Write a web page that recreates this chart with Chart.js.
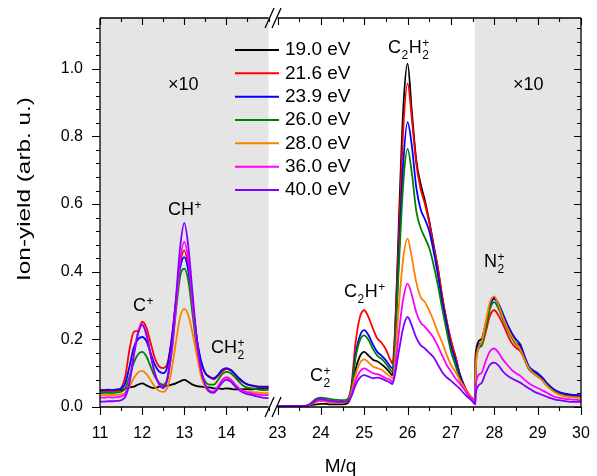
<!DOCTYPE html>
<html><head><meta charset="utf-8">
<script src="https://cdn.jsdelivr.net/npm/chart.js@4/dist/chart.umd.min.js"></script>
<style>html,body{margin:0;padding:0;background:#fff;}canvas{display:block;}</style>
</head><body>
<canvas id="c" width="597" height="476"></canvas>
<script>
// ---------------- DATA ----------------
const seriesLabels = ['19.0 eV','21.6 eV','23.9 eV','26.0 eV','28.0 eV','36.0 eV','40.0 eV'];
const seriesColors = ['#000000','#ff0000','#0000ff','#008000','#ff8000','#ff00ff','#8000ff'];

// left panel (x10), M/q 11 - 15
const massLeft = [11.0,11.1,11.2,11.3,11.4,11.5,11.6,11.7,11.8,11.9,12.0,12.1,12.2,12.3,12.4,12.5,12.6,12.7,12.8,12.9,13.0,13.1,13.2,13.3,13.4,13.5,13.6,13.7,13.8,13.9,14.0,14.1,14.2,14.3,14.4,14.5,14.6,14.7,14.8,14.9,15.0];
const yield19_0L = [0.050,0.049,0.050,0.048,0.050,0.049,0.055,0.058,0.060,0.066,0.070,0.064,0.058,0.056,0.060,0.062,0.063,0.066,0.070,0.076,0.080,0.074,0.066,0.062,0.060,0.058,0.058,0.055,0.055,0.053,0.055,0.054,0.052,0.053,0.052,0.053,0.052,0.054,0.055,0.055,0.055];
const yield21_6L = [0.046,0.047,0.046,0.048,0.047,0.055,0.090,0.170,0.222,0.225,0.252,0.235,0.190,0.145,0.120,0.115,0.130,0.200,0.310,0.420,0.463,0.410,0.300,0.200,0.130,0.100,0.090,0.082,0.092,0.105,0.112,0.108,0.095,0.082,0.073,0.066,0.063,0.060,0.058,0.058,0.058];
const yield23_9L = [0.050,0.050,0.051,0.050,0.052,0.055,0.070,0.120,0.175,0.200,0.207,0.195,0.160,0.125,0.105,0.100,0.120,0.200,0.310,0.410,0.443,0.400,0.300,0.200,0.135,0.100,0.088,0.085,0.095,0.110,0.115,0.110,0.098,0.085,0.074,0.067,0.064,0.062,0.060,0.060,0.060];
const yield26_0L = [0.041,0.042,0.042,0.041,0.043,0.045,0.055,0.090,0.130,0.155,0.163,0.150,0.120,0.090,0.072,0.066,0.085,0.160,0.280,0.385,0.409,0.370,0.270,0.170,0.105,0.075,0.066,0.066,0.080,0.097,0.104,0.100,0.088,0.074,0.063,0.057,0.055,0.053,0.051,0.050,0.050];
const yield28_0L = [0.035,0.035,0.036,0.035,0.036,0.037,0.042,0.060,0.085,0.102,0.107,0.098,0.080,0.060,0.048,0.045,0.058,0.110,0.190,0.265,0.290,0.270,0.215,0.150,0.090,0.058,0.045,0.045,0.062,0.079,0.085,0.080,0.066,0.053,0.047,0.045,0.044,0.043,0.042,0.041,0.041];
const yield36_0L = [0.028,0.028,0.029,0.028,0.029,0.031,0.040,0.080,0.155,0.220,0.245,0.215,0.155,0.100,0.070,0.058,0.082,0.165,0.290,0.430,0.488,0.430,0.300,0.185,0.105,0.065,0.048,0.046,0.060,0.080,0.088,0.082,0.068,0.055,0.047,0.043,0.040,0.038,0.036,0.035,0.035];
const yield40_0L = [0.016,0.016,0.017,0.017,0.018,0.020,0.030,0.070,0.150,0.215,0.242,0.215,0.155,0.100,0.068,0.056,0.085,0.180,0.320,0.470,0.544,0.470,0.330,0.200,0.110,0.065,0.045,0.042,0.055,0.072,0.080,0.075,0.062,0.050,0.042,0.038,0.036,0.032,0.029,0.027,0.026];

// right panel, M/q 23 - 30 (x10 above 27.55)
const massRight = [23.0,23.2,23.4,23.6,23.7,23.8,23.9,24.0,24.1,24.2,24.3,24.4,24.5,24.6,24.7,24.8,24.9,25.0,25.1,25.2,25.3,25.4,25.5,25.6,25.65,25.7,25.8,25.9,26.0,26.1,26.2,26.3,26.4,26.5,26.6,26.7,26.8,26.9,27.0,27.1,27.2,27.3,27.4,27.5,27.56,27.57,27.7,27.8,27.9,28.0,28.1,28.2,28.3,28.4,28.5,28.6,28.7,28.8,28.9,29.0,29.1,29.2,29.3,29.4,29.5,29.6,29.7,29.8,29.9,30.0];
const yield19_0R = [0.003,0.003,0.003,0.003,0.004,0.006,0.008,0.009,0.009,0.008,0.008,0.008,0.008,0.010,
  0.035,0.110,0.150,0.163,0.152,0.140,0.135,0.126,0.115,0.100,0.094,
  0.180,0.550,0.880,1.015,0.870,0.730,0.660,0.610,0.550,0.480,0.410,0.325,0.255,0.195,0.150,0.100,0.065,0.040,0.024,
  0.014,0.158,
  0.200,0.245,0.300,0.325,0.300,0.270,0.240,0.215,0.190,0.180,0.145,0.115,0.105,0.098,0.085,0.070,0.058,0.048,0.042,0.038,0.036,0.035,0.034,0.033];
const yield21_6R = [0.003,0.003,0.003,0.003,0.004,0.010,0.016,0.018,0.017,0.015,0.014,0.013,0.013,0.018,
  0.060,0.190,0.265,0.286,0.265,0.232,0.203,0.190,0.170,0.140,0.129,
  0.200,0.500,0.820,0.957,0.850,0.720,0.645,0.600,0.545,0.475,0.410,0.325,0.255,0.198,0.152,0.100,0.065,0.040,0.025,
  0.015,0.148,
  0.180,0.220,0.270,0.286,0.270,0.245,0.215,0.190,0.175,0.165,0.140,0.112,0.100,0.092,0.080,0.066,0.054,0.045,0.039,0.035,0.033,0.032,0.031,0.030];
const yield23_9R = [0.003,0.003,0.003,0.003,0.004,0.011,0.018,0.020,0.019,0.017,0.016,0.015,0.015,0.016,
  0.050,0.155,0.210,0.227,0.212,0.185,0.163,0.152,0.138,0.120,0.114,
  0.170,0.450,0.720,0.842,0.770,0.650,0.585,0.555,0.520,0.460,0.390,0.310,0.245,0.180,0.140,0.095,0.060,0.038,0.022,
  0.012,0.139,
  0.190,0.240,0.300,0.320,0.305,0.275,0.245,0.220,0.200,0.185,0.150,0.120,0.108,0.100,0.088,0.073,0.060,0.050,0.044,0.040,0.038,0.036,0.035,0.034];
const yield26_0R = [0.003,0.003,0.003,0.003,0.005,0.015,0.025,0.028,0.026,0.024,0.022,0.021,0.020,0.022,
  0.050,0.145,0.197,0.212,0.198,0.172,0.152,0.142,0.128,0.110,0.104,
  0.160,0.420,0.660,0.763,0.690,0.580,0.530,0.500,0.470,0.420,0.360,0.290,0.225,0.165,0.125,0.085,0.055,0.035,0.020,
  0.011,0.130,
  0.180,0.230,0.290,0.310,0.290,0.260,0.230,0.205,0.185,0.170,0.140,0.112,0.100,0.090,0.080,0.066,0.054,0.045,0.038,0.034,0.032,0.030,0.029,0.028];
const yield28_0R = [0.003,0.003,0.003,0.003,0.004,0.010,0.016,0.018,0.017,0.015,0.014,0.014,0.013,0.015,
  0.040,0.095,0.130,0.141,0.132,0.120,0.115,0.110,0.100,0.090,0.085,
  0.120,0.300,0.440,0.498,0.440,0.370,0.325,0.310,0.285,0.255,0.220,0.190,0.155,0.125,0.105,0.080,0.060,0.040,0.022,
  0.012,0.114,
  0.190,0.250,0.310,0.327,0.300,0.265,0.235,0.210,0.190,0.170,0.140,0.115,0.100,0.090,0.080,0.065,0.053,0.043,0.037,0.033,0.030,0.029,0.028,0.027];
const yield36_0R = [0.003,0.003,0.003,0.003,0.004,0.011,0.018,0.020,0.019,0.017,0.016,0.015,0.015,0.016,
  0.035,0.078,0.105,0.114,0.108,0.100,0.097,0.092,0.085,0.080,0.075,
  0.100,0.220,0.320,0.365,0.330,0.280,0.250,0.237,0.222,0.205,0.180,0.152,0.125,0.105,0.085,0.070,0.053,0.037,0.020,
  0.010,0.065,
  0.100,0.135,0.165,0.173,0.160,0.140,0.125,0.110,0.100,0.092,0.080,0.070,0.062,0.056,0.050,0.043,0.036,0.030,0.027,0.025,0.023,0.022,0.021,0.020];
const yield40_0R = [0.003,0.003,0.003,0.003,0.005,0.012,0.021,0.024,0.022,0.019,0.017,0.016,0.015,0.017,
  0.030,0.065,0.087,0.094,0.090,0.085,0.087,0.084,0.078,0.072,0.068,
  0.090,0.165,0.235,0.266,0.240,0.205,0.183,0.173,0.160,0.147,0.125,0.103,0.088,0.078,0.066,0.055,0.040,0.028,0.016,
  0.008,0.040,
  0.070,0.100,0.125,0.131,0.122,0.105,0.093,0.085,0.078,0.072,0.063,0.055,0.047,0.041,0.036,0.031,0.026,0.022,0.020,0.018,0.016,0.015,0.015,0.015];

const xTickMasses = [11,12,13,14,23,24,25,26,27,28,29,30];
const xTickLabels = ['11','12','13','14','23','24','25','26','27','28','29','30'];
const yTickValues = [0,0.2,0.4,0.6,0.8,1.0];

// ---------------- AXIS BREAK MAPPING ----------------
const LEFT_END = 15, RIGHT_START = 23, SHADE_START = 27.55;
const X_LEFT_SCALE = 0.972, X_GAP = 0.206;
function disp(m){
  return m <= LEFT_END ? 11 + (m-11)*X_LEFT_SCALE
                       : 11 + (LEFT_END-11)*X_LEFT_SCALE + X_GAP + (m-RIGHT_START);
}

const leftSeries = [yield19_0L,yield21_6L,yield23_9L,yield26_0L,yield28_0L,yield36_0L,yield40_0L];
const rightSeries = [yield19_0R,yield21_6R,yield23_9R,yield26_0R,yield28_0R,yield36_0R,yield40_0R];
const gapX = (disp(LEFT_END)+disp(RIGHT_START))/2;

const datasets = seriesLabels.map((lab,i)=>({
  label: lab,
  data: [
    ...massLeft.map((m,j)=>({x:disp(m), y:leftSeries[i][j]})),
    {x:gapX, y:null},
    ...massRight.map((m,j)=>({x:disp(m), y:rightSeries[i][j]}))
  ],
  borderColor: seriesColors[i],
  backgroundColor: seriesColors[i],
  borderWidth: 1.8,
  pointRadius: 0,
  fill: false,
  spanGaps: false,
  cubicInterpolationMode: 'monotone',
  order: seriesLabels.length - i
}));

const FONT = "'Liberation Sans', Arial, sans-serif";

function drawFormula(ctx, x, base, parts, size){
  const sm = Math.round(size*0.66);
  let cx = x;
  for (const p of parts){
    if (typeof p === 'string'){
      ctx.font = size+'px '+FONT;
      ctx.fillText(p, cx, base);
      cx += ctx.measureText(p).width;
    } else {
      ctx.font = sm+'px '+FONT;
      let w = 0;
      if (p.sub){ ctx.fillText(p.sub, cx+0.5, base+6); w = Math.max(w, ctx.measureText(p.sub).width); }
      if (p.sup){ ctx.fillText(p.sup, cx+0.5, base-6); w = Math.max(w, ctx.measureText(p.sup).width); }
      cx += w + 1;
    }
  }
}

const decorPlugin = {
  id: 'decor',
  beforeDatasetsDraw(chart){
    const {ctx, chartArea:a, scales:{x}} = chart;
    ctx.save();
    ctx.fillStyle = '#e5e5e5';
    const l1 = x.getPixelForValue(disp(LEFT_END));
    ctx.fillRect(a.left, a.top, l1-a.left, a.bottom-a.top);
    const r0 = x.getPixelForValue(disp(SHADE_START));
    ctx.fillRect(r0, a.top, a.right-r0, a.bottom-a.top);
    ctx.restore();
  },
  afterDraw(chart){
    const {ctx, chartArea:a, scales:{x, y}} = chart;
    ctx.save();
    ctx.strokeStyle = '#000';
    ctx.fillStyle = '#000';
    ctx.lineWidth = 1.3;
    const xl1 = x.getPixelForValue(disp(LEFT_END));
    const xr0 = x.getPixelForValue(disp(RIGHT_START));
    // frame
    ctx.beginPath();
    ctx.moveTo(a.left, a.top); ctx.lineTo(a.left, a.bottom);
    ctx.moveTo(a.right, a.top); ctx.lineTo(a.right, a.bottom);
    ctx.moveTo(a.left, a.top); ctx.lineTo(xl1, a.top);
    ctx.moveTo(xr0, a.top); ctx.lineTo(a.right, a.top);
    ctx.moveTo(a.left, a.bottom); ctx.lineTo(xl1, a.bottom);
    ctx.moveTo(xr0, a.bottom); ctx.lineTo(a.right, a.bottom);
    ctx.stroke();
    // x ticks
    ctx.lineWidth = 1.1;
    ctx.beginPath();
    const xt = [];
    for (let m = 11; m <= LEFT_END + 1e-9; m += 0.5) xt.push(m);
    for (let m = RIGHT_START; m <= 30 + 1e-9; m += 0.5) xt.push(m);
    xt.forEach(m=>{
      const px = Math.round(x.getPixelForValue(disp(m)))+0.5;
      const major = Math.abs(m-Math.round(m))<1e-6 && m !== LEFT_END;
      const lo = major ? 8 : 4, li = major ? 7 : 4;
      ctx.moveTo(px, a.bottom); ctx.lineTo(px, a.bottom+lo);
      ctx.moveTo(px, a.top); ctx.lineTo(px, a.top+li);
    });
    // y ticks
    for (let k = 0; k <= 28; k++){
      const v = k*0.04;
      const py = Math.round(y.getPixelForValue(v))+0.5;
      const major = (k % 5) === 0;
      const lo = major ? 8 : 4, li = major ? 7 : 4;
      ctx.moveTo(a.left, py); ctx.lineTo(a.left-lo, py);
      ctx.moveTo(a.right, py); ctx.lineTo(a.right-li, py);
    }
    ctx.stroke();
    // break marks
    ctx.lineWidth = 1.3;
    const bx = (xl1 + xr0)/2;
    ctx.beginPath();
    [a.top, a.bottom].forEach(yy=>{
      for (const dx of [-3.5, 3.5]){
        ctx.moveTo(bx+dx-4.5, yy+10); ctx.lineTo(bx+dx+4.5, yy-10);
      }
    });
    ctx.stroke();

    // titles
    ctx.font = '19px '+FONT;
    ctx.textAlign = 'center'; ctx.textBaseline = 'middle';
    ctx.fillText('M/q', (a.left+a.right)/2, 467);
    ctx.save();
    ctx.translate(25, 189);
    ctx.rotate(-Math.PI/2);
    ctx.scale(1.28, 1);
    ctx.fillText('Ion-yield (arb. u.)', 0, 0);
    ctx.restore();

    // x10 labels
    ctx.textAlign = 'left'; ctx.textBaseline = 'alphabetic';
    ctx.font = '18px '+FONT;
    ctx.fillText('\u00d710', 168, 90);
    ctx.fillText('\u00d710', 513, 90);

    // peak labels
    const S = 18;
    drawFormula(ctx, 133, 311, ['C',{sup:'+'}], S);
    drawFormula(ctx, 168, 215, ['CH',{sup:'+'}], S);
    drawFormula(ctx, 211, 353, ['CH',{sub:'2',sup:'+'}], S);
    drawFormula(ctx, 310, 381, ['C',{sub:'2',sup:'+'}], S);
    drawFormula(ctx, 344, 297, ['C',{sub:'2'},'H',{sup:'+'}], S);
    drawFormula(ctx, 388, 53, ['C',{sub:'2'},'H',{sub:'2',sup:'+'}], S);
    drawFormula(ctx, 484, 267, ['N',{sub:'2',sup:'+'}], S);

    // legend
    ctx.textBaseline = 'middle';
    ctx.font = '19px '+FONT;
    seriesLabels.forEach((lab,i)=>{
      const yy = 50 + i*23.33;
      ctx.strokeStyle = seriesColors[i];
      ctx.lineWidth = 2;
      ctx.beginPath(); ctx.moveTo(235, yy); ctx.lineTo(279, yy); ctx.stroke();
      ctx.fillStyle = '#000';
      ctx.fillText(lab, 285, yy);
    });
    ctx.restore();
  }
};

new Chart(document.getElementById('c'), {
  type: 'line',
  data: { datasets },
  options: {
    responsive: false,
    animation: false,
    devicePixelRatio: 1,
    layout: { padding: { left: 0, right: 16, top: 18, bottom: 0 } },
    plugins: { legend: { display: false }, tooltip: { enabled: false } },
    scales: {
      x: {
        type: 'linear', min: disp(11), max: disp(30),
        afterBuildTicks: s => { s.ticks = xTickMasses.map(m => ({ value: disp(m) })); },
        afterFit: s => { s.height = 69; s.paddingLeft = 0; s.paddingRight = 0; },
        ticks: { autoSkip: false, maxRotation: 0, minRotation: 0, padding: 17, color: '#000',
                 font: { family: FONT, size: 16 },
                 callback: (v, i) => xTickLabels[i] },
        grid: { display: false, drawTicks: false },
        border: { display: false }
      },
      y: {
        type: 'linear', min: 0, max: 1.15,
        afterBuildTicks: s => { s.ticks = yTickValues.map(v => ({ value: v })); },
        afterFit: s => { s.width = 100; s.paddingTop = 0; s.paddingBottom = 0; },
        ticks: { padding: 17, color: '#000', font: { family: FONT, size: 16 },
                 callback: v => Number(v).toFixed(1) },
        grid: { display: false, drawTicks: false },
        border: { display: false }
      }
    }
  },
  plugins: [decorPlugin]
});
</script>
</body></html>
